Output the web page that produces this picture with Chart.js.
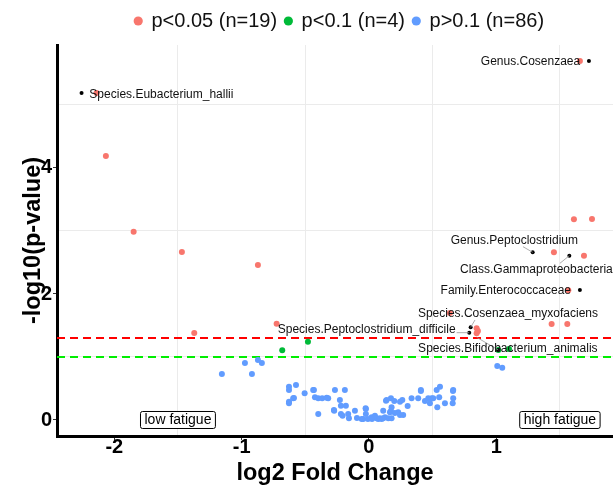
<!DOCTYPE html>
<html lang="en">
<head>
<meta charset="UTF-8">
<title>Volcano plot</title>
<script src="https://cdn.jsdelivr.net/npm/chart.js"></script>
<style>
    body { margin: 0; padding: 0; background: #fff; }
    #wrap { width: 613px; height: 485px; }
</style>
</head>
<body>
<div id="wrap"><canvas id="volcano" width="613" height="485"></canvas></div>
<script>
    // axis limits (log2 FC, -log10 p)
    var xLimits = [-2.45, 1.917];
    var yLimits = [-0.254, 5.952];
    var pCuts = [1.301, 1.0]; // p = 0.05, p = 0.1

    var groupNames = ['p<0.05 (n=19)', 'p<0.1 (n=4)', 'p>0.1 (n=86)'];
    var groupColors = ['#F8766D', '#00BA38', '#619CFF'];

    // p<0.05
    var sigX = [-2.139, -2.066, -1.848, -1.469, -0.872, -1.372, -0.725, 1.657, 1.610, 1.752,
                1.453, 1.689, 1.566, 1.435, 1.558, 0.846, 0.846, 0.636, 0.856];
    var sigY = [5.190, 4.190, 2.989, 2.667, 2.460, 1.381, 1.529, 5.698, 3.186, 3.190,
                2.662, 2.608, 2.059, 1.524, 1.524, 1.456, 1.376, 1.698, 1.413];

    // p<0.1
    var trendX = [-0.479, -0.681, 1.016, 1.100];
    var trendY = [1.243, 1.106, 1.111, 1.127];

    // p>0.1
    var nsX = [-1.155, -0.974, -0.919, -0.872, -0.841, -0.628, -0.628, -0.573, -0.628, -0.628,
               -0.595, -0.505, -0.438, -0.424, -0.398, -0.367, -0.320, -0.398, -0.267, -0.189,
               -0.228, -0.220, -0.181, -0.273, -0.220, -0.207, -0.163, -0.157, -0.110, -0.057,
               -0.045, -0.024, -0.024, 0.021, 0.047, 0.073, 0.100, 0.126, 0.112, 0.134,
               0.173, 0.199, 0.244, 0.262, 0.178, 0.173, 0.165, 0.230, 0.244, 0.269,
               0.304, 0.335, 0.387, 0.408, 0.440, 0.466, 0.493, 0.479, 0.505, 0.532,
               0.558, 0.552, 0.537, 0.597, 0.662, 0.662, 0.658, 0.152, 0.178, 1.008,
               1.047, 0.060, 0.086, 0.112, 0.139, -0.026, -0.275, -0.432, -0.332, -0.589,
               -0.094, -0.008, 0.024, 0.204, 0.408, 0.660];
    var nsY = [0.730, 0.905, 0.730, 0.952, 0.905, 0.529, 0.476, 0.556, 0.290, 0.265,
               0.344, 0.424, 0.476, 0.360, 0.344, 0.344, 0.344, 0.095, 0.476, 0.476,
               0.317, 0.227, 0.227, 0.148, 0.095, 0.068, 0.095, 0.027, 0.148, 0.016,
               0.016, 0.175, 0.095, 0.043, 0.068, 0.016, 0.016, 0.043, 0.148, 0.306,
               0.344, 0.302, 0.290, 0.317, 0.202, 0.143, 0.122, 0.122, 0.079, 0.079,
               0.222, 0.344, 0.344, 0.476, 0.302, 0.344, 0.344, 0.265, 0.344, 0.476,
               0.529, 0.360, 0.202, 0.265, 0.476, 0.344, 0.265, 0.027, 0.027, 0.857,
               0.830, 0.027, 0.027, 0.027, 0.317, 0.186, 0.159, 0.476, 0.354, 0.349,
               0.032, 0.016, 0.016, 0.111, 0.460, 0.460];

    // labelled taxa: black point, text position, leader line start
    var labelNames = ['Species.Eubacterium_hallii', 'Genus.Cosenzaea', 'Genus.Peptoclostridium',
                      'Class.Gammaproteobacteria', 'Family.Enterococcaceae', 'Species.Cosenzaea_myxofaciens',
                      'Species.Peptoclostridium_difficile', 'Species.Bifidobacterium_animalis'];
    var labPtX = [-2.257, 1.728, 1.286, 1.574, 1.657, 0.799, 0.788, 1.016];
    var labPtY = [5.190, 5.698, 2.662, 2.608, 2.063, 1.471, 1.386, 1.111];
    var labelX = [-1.630, 1.269, 1.142, 1.315, 1.075, 1.092, -0.018, 1.091];
    var labelY = [5.159, 5.687, 2.841, 2.392, 2.052, 1.683, 1.429, 1.138];
    var leadX = [null, null, 1.210, 1.500, null, 0.833, 0.689, 0.846];
    var leadY = [null, null, 2.751, 2.487, null, 1.587, 1.386, 1.313];

    var boxText = ['low fatigue', 'high fatigue'];
    var boxX = [-1.5, 1.5];
    var boxY = [0, 0];

    function pts(xs, ys) {
        return xs.map(function (x, i) { return { x: x, y: ys[i] }; });
    }
    function near(a, b) { return Math.abs(a - b) < 1e-6; }

    Chart.defaults.font.family = '"Liberation Sans", Arial, sans-serif';
    Chart.defaults.color = '#000';

    var extras = {
        id: 'extras',
        afterLayout: function (chart) {
            // legend sits over the panel, not the canvas centre
            var lg = chart.legend;
            lg.left += 33; lg.right += 33;
            lg.top -= 4; lg.bottom -= 4;
        },
        afterDatasetsDraw: function (chart) {
            var c = chart.ctx, xs = chart.scales.x, ys = chart.scales.y;
            c.save();
            // leader lines
            c.strokeStyle = '#999';
            c.lineWidth = 0.8;
            for (var i = 0; i < labelNames.length; i++) {
                if (leadX[i] === null) continue;
                c.beginPath();
                c.moveTo(xs.getPixelForValue(leadX[i]), ys.getPixelForValue(leadY[i]));
                c.lineTo(xs.getPixelForValue(labPtX[i]), ys.getPixelForValue(labPtY[i]));
                c.stroke();
            }
            c.font = '12px "Liberation Sans", Arial, sans-serif';
            c.fillStyle = '#111';
            c.textAlign = 'center';
            c.textBaseline = 'middle';
            for (var j = 0; j < labelNames.length; j++) {
                c.fillText(labelNames[j], xs.getPixelForValue(labelX[j]), ys.getPixelForValue(labelY[j]));
            }
            // group boxes
            c.font = '14px "Liberation Sans", Arial, sans-serif';
            for (var k = 0; k < boxText.length; k++) {
                var cx = xs.getPixelForValue(boxX[k]), cy = ys.getPixelForValue(boxY[k]);
                var w = c.measureText(boxText[k]).width + 8, h = 17, r = 2;
                var x0 = cx - w / 2, y0 = cy - h / 2;
                c.beginPath();
                c.moveTo(x0 + r, y0);
                c.arcTo(x0 + w, y0, x0 + w, y0 + h, r);
                c.arcTo(x0 + w, y0 + h, x0, y0 + h, r);
                c.arcTo(x0, y0 + h, x0, y0, r);
                c.arcTo(x0, y0, x0 + w, y0, r);
                c.closePath();
                c.fillStyle = '#fff';
                c.fill();
                c.strokeStyle = '#000';
                c.lineWidth = 1;
                c.stroke();
                c.fillStyle = '#000';
                c.fillText(boxText[k], cx, cy + 0.5);
            }
            c.restore();
        }
    };

    var ctx = document.getElementById('volcano').getContext('2d');
    var volcano = new Chart(ctx, {
        type: 'scatter',
        data: {
            datasets: [
                { label: groupNames[0], data: pts(sigX, sigY), backgroundColor: groupColors[0], borderColor: groupColors[0],
                  pointRadius: 3, pointBorderWidth: 0, order: 1 },
                { label: groupNames[1], data: pts(trendX, trendY), backgroundColor: groupColors[1], borderColor: groupColors[1],
                  pointRadius: 3, pointBorderWidth: 0, order: 2 },
                { label: groupNames[2], data: pts(nsX, nsY), backgroundColor: groupColors[2], borderColor: groupColors[2],
                  pointRadius: 3, pointBorderWidth: 0, order: 3 },
                { label: 'labelled', data: pts(labPtX, labPtY), backgroundColor: '#000', borderColor: '#000',
                  pointRadius: 2, pointBorderWidth: 0, order: 0 },
                { type: 'line', label: 'p=0.05', data: pts(xLimits, [pCuts[0], pCuts[0]]), borderColor: '#ff0000',
                  borderWidth: 2, borderDash: [8, 5], pointRadius: 0, fill: false, order: 4 },
                { type: 'line', label: 'p=0.1', data: pts(xLimits, [pCuts[1], pCuts[1]]), borderColor: '#00ee00',
                  borderWidth: 2, borderDash: [8, 5], pointRadius: 0, fill: false, order: 5 }
            ]
        },
        options: {
            responsive: false,
            animation: false,
            events: [],
            layout: { autoPadding: false, padding: { top: 7, left: 0, right: 0, bottom: 0 } },
            plugins: {
                legend: {
                    position: 'top',
                    labels: {
                        usePointStyle: true,
                        pointStyle: 'circle',
                        boxWidth: 6.5,
                        boxHeight: 6.5,
                        padding: 8,
                        font: { size: 20 },
                        color: '#111',
                        filter: function (item) { return item.datasetIndex <= 2; }
                    }
                },
                tooltip: { enabled: false }
            },
            scales: {
                x: {
                    type: 'linear',
                    min: xLimits[0],
                    max: xLimits[1],
                    afterFit: function (s) { s.height = 49; },
                    border: { display: true, color: '#000', width: 3 },
                    grid: {
                        color: function (c) { return near(c.tick.value, Math.round(c.tick.value)) ? 'rgba(0,0,0,0)' : '#ebebeb'; },
                        tickColor: function (c) { return near(c.tick.value, Math.round(c.tick.value)) ? '#333' : 'rgba(0,0,0,0)'; },
                        lineWidth: 1,
                        tickLength: 4
                    },
                    ticks: {
                        stepSize: 0.5,
                        includeBounds: false,
                        autoSkip: false,
                        maxRotation: 0,
                        padding: -3,
                        font: { size: 20, weight: 'bold', lineHeight: 1 },
                        color: '#000',
                        callback: function (v) { return near(v, Math.round(v)) ? String(Math.round(v)) : ''; }
                    },
                    title: {
                        display: true,
                        text: 'log2 Fold Change',
                        font: { size: 23.5, weight: 'bold', lineHeight: 1 },
                        color: '#000',
                        padding: { top: 5, bottom: 0 }
                    }
                },
                y: {
                    type: 'linear',
                    min: yLimits[0],
                    max: yLimits[1],
                    afterFit: function (s) { s.width = 57; },
                    border: { display: true, color: '#000', width: 3 },
                    grid: {
                        color: function (c) { return Math.round(c.tick.value) % 2 === 0 ? 'rgba(0,0,0,0)' : '#ebebeb'; },
                        tickColor: function (c) { return Math.round(c.tick.value) % 2 === 0 ? '#333' : 'rgba(0,0,0,0)'; },
                        lineWidth: 1,
                        tickLength: 4
                    },
                    ticks: {
                        stepSize: 1,
                        includeBounds: false,
                        autoSkip: false,
                        padding: 1,
                        font: { size: 20, weight: 'bold', lineHeight: 1 },
                        color: '#000',
                        callback: function (v) { return Math.round(v) % 2 === 0 ? String(Math.round(v)) : ''; }
                    },
                    title: {
                        display: true,
                        text: '-log10(p-value)',
                        font: { size: 23.5, weight: 'bold', lineHeight: 1 },
                        color: '#000',
                        padding: { top: 22, bottom: 0 }
                    }
                }
            }
        },
        plugins: [extras]
    });
</script>
</body>
</html>
